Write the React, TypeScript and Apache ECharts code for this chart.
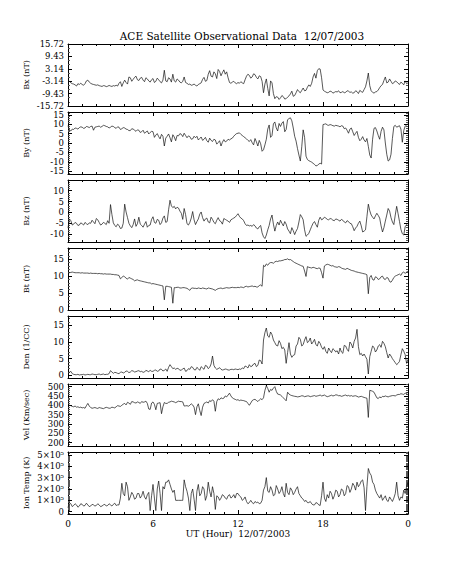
import React, { useEffect, useRef } from 'react';
import * as echarts from 'echarts';

// UT hours, sampled every 0.1 h from 0 to 24 (241 samples per series)
const STEP_HOURS = 0.1;

const bxValues = [
  -3.6, -3.2, -4.0, -4.4, -4.6, -5.0, -5.6, -4.4, -4.8, -4.2,
  -4.8, -5.2, -4.4, -3.0, -2.6, -3.6, -4.2, -4.6, -4.8, -5.0,
  -5.2, -5.0, -5.4, -5.6, -5.8, -5.4, -5.5, -5.9, -5.7, -5.3,
  -5.6, -5.8, -5.4, -5.6, -5.2, -5.6, -4.2, -3.4, -5.8, -4.0,
  -2.6, -3.8, -4.6, -1.0, -1.4, -3.2, -2.2, -1.2, -0.6, -2.4,
  -2.8, -1.6, -1.2, -2.6, -3.4, -1.4, -2.0, -3.0, -3.6, -2.4,
  -1.8, -3.8, -3.2, -1.6, -2.4, -3.4, -4.0, -2.6, 2.4, -3.0,
  -3.4, -1.4, -2.0, -3.6, 0.4, -3.0, -3.6, -2.0, -2.6, -3.6,
  -4.0, -3.2, -1.0, -3.8, -4.2, -4.8, -4.6, -5.2, -5.0, -4.6,
  -5.2, -5.6, -4.8, -4.4, -4.0, -2.2, -1.2, -3.2, -2.8, 0.4,
  2.2, -0.6, -1.0, 1.6, 0.6, -1.8, 2.8, 1.8, -0.4, 1.2,
  2.6, 0.4, 1.6, -1.4, -3.8, -4.2, -3.6, -3.2, -4.0, -4.4,
  -3.8, -4.2, -3.4, -4.0, -4.4, -2.4, -0.6, 0.4, -0.2, -1.6,
  -1.0, 0.6, 0.2, -1.2, -2.0, -0.4, -0.8, -3.2, -9.0, -4.6,
  -2.0, -6.8, -10.6, -3.0, -4.0, -9.4, -12.0, -11.0, -11.2, -12.4,
  -11.6, -10.4, -11.0, -12.2, -12.0, -11.2, -10.6, -9.6, -8.2, -10.8,
  -10.4, -9.0, -7.4, -8.4, -9.0, -7.8, -6.6, -8.0, -7.8, -6.2,
  -5.0, -5.8, -4.2, -1.0, 0.8, -1.6, 2.2, 3.2, 3.0, -1.4,
  -7.6, -8.2, -8.6, -9.0, -8.8, -8.2, -8.4, -9.2, -8.8, -8.4,
  -8.6, -8.0, -9.0, -8.8, -8.4, -9.0, -8.8, -8.0, -8.2, -8.8,
  -8.6, -9.2, -9.0, -8.0, -8.4, -9.4, -7.8, -8.4, -8.8, -7.4,
  -6.0, -3.0, 1.0, -5.4, -8.0, -8.8, -9.2, -8.6, -8.4, -7.6,
  -6.4, -5.4, -4.8, -2.8, -1.0, -4.0, -3.6, -2.0, -3.2, -4.4,
  -4.0, -3.0, -3.4, -4.2, -4.8, -3.6, -4.2, -5.0, -3.0, -4.4,
  -4.0,
];

const byValues = [
  9.2, 7.0, 6.4, 7.4, 7.2, 8.0, 7.8, 7.4, 8.2, 8.6,
  8.4, 7.8, 8.0, 8.8, 8.6, 8.2, 8.8, 9.0, 6.8, 8.4,
  8.6, 8.8, 9.0, 8.4, 8.8, 9.4, 9.2, 8.8, 8.6, 8.0,
  8.4, 9.0, 8.8, 8.2, 7.8, 8.6, 8.4, 7.2, 7.6, 8.2,
  8.0, 7.4, 7.2, 6.6, 6.6, 7.6, 7.4, 6.8, 6.2, 7.0,
  6.8, 5.6, 6.0, 6.8, 5.2, 5.8, 6.4, 4.8, 5.6, 6.2,
  6.0, 3.0, 4.2, 5.0, 3.4, 2.2, 4.6, 3.6, -1.6, 2.6,
  3.6, 4.8, 2.8, 0.6, 4.4, 3.2, 1.2, 4.0, 3.8, 5.0,
  4.6, 3.4, 5.2, 4.0, 2.8, 3.8, 3.4, 2.0, 2.2, 3.6,
  2.8, 3.6, 1.6, 2.4, 3.2, 1.4, 2.0, 3.0, 1.2, 0.4,
  2.6, 1.4, 0.8, 2.0, 1.6, -0.6, 0.2, 1.2, -1.6, 0.4,
  1.8, 0.6, 1.0, 2.0, 1.6, 2.2, 2.6, 3.6, 4.4, 5.0,
  5.2, 5.4, 4.6, 4.0, 3.4, 2.8, 2.2, 1.4, 0.8, 1.8,
  0.2, -1.0, 2.4, 0.6, -1.6, 1.4, -0.4, -4.4, -3.6, -1.0,
  2.0, 7.4, 9.6, 3.0, 4.0, 10.2, 11.2, 8.0, 6.4, 10.4,
  8.8, 10.6, 11.4, 6.0, 7.2, 12.4, 13.0, 13.4, 11.8, 8.0,
  3.6, 1.0, -3.0, -6.4, -9.6, -2.0, 7.0, 3.0, -7.0, -8.8,
  -9.4, -9.8, -10.2, -10.8, -11.4, -12.2, -12.0, -11.2, -10.8, -11.2,
  9.8, 10.0, 10.2, 9.6, 9.4, 9.8, 9.6, 9.2, 9.0, 9.4,
  9.2, 9.0, 8.6, 9.2, 9.0, 7.6, 8.0, 6.8, 5.2, 7.4,
  8.0, 6.0, 4.0, 5.2, 6.2, 3.0, 1.2, 2.0, 3.4, 1.6,
  0.6, 2.4, -1.8, -6.4, -8.0, 2.0, 7.8, 8.2, 6.4, 4.0,
  2.0, 6.2, 8.4, 7.0, 0.0, -6.0, -9.6, -9.0, -6.0, 2.4,
  8.8, 9.4, 8.4, 8.8, 9.2, 7.4, 0.4, 6.6, 9.0, 9.6,
  10.2,
];

const bzValues = [
  -7.2, -3.0, -3.8, -5.8, -5.4, -4.6, -5.0, -6.0, -5.8, -4.8,
  -5.2, -5.8, -4.6, -5.2, -5.6, -4.8, -5.0, -3.6, -4.4, -5.2,
  -2.8, -3.4, -4.6, -5.8, -5.4, -4.6, -5.0, -5.6, -3.8, -5.0,
  3.6, -1.0, -4.8, -6.0, -6.6, -5.4, -6.0, -7.4, -7.2, -5.0,
  3.8, 0.2, -2.4, -5.0, -6.2, -7.0, -5.6, -3.0, -6.4, -5.2,
  -2.2, -5.4, -6.0, -6.8, -5.4, -4.2, -6.8, -6.0, -5.8, -3.2,
  -2.0, -4.6, -5.0, -3.2, -3.6, -5.6, -4.8, -2.6, -1.6, -4.6,
  -4.2, 1.2, 5.6, 3.0, 2.2, 2.8, 1.6, 2.4, 2.0, 0.6,
  -0.4, -3.2, 1.8, -1.0, -5.2, -5.8, -4.6, -2.6, 0.4, -3.4,
  -5.6, -4.2, -3.0, -0.8, 0.2, -2.4, -4.0, -3.0, -2.6, -4.4,
  -4.8, -2.2, -3.2, -4.6, -5.2, -3.6, -2.4, -3.8, -4.2, -5.4,
  -2.8, -3.2, -3.6, -4.0, -4.6, -3.4, -3.0, -2.6, -2.2, -1.4,
  -0.6, -1.8, -2.6, -3.0, -3.8, -5.2, -6.0, -5.8, -6.2, -6.0,
  -6.4, -5.6, -6.2, -7.2, -7.6, -6.6, -6.0, -9.4, -11.2, -12.0,
  -10.4, -8.0, -6.0, -3.0, -1.2, -5.4, -8.6, -6.0, -4.4, -5.8,
  -3.6, -5.0, -6.2, -4.2, -5.4, -7.6, -8.6, -9.8, -7.0, -8.4,
  -10.2, -8.6, -7.4, -4.4, -1.0, -2.0, -3.4, -8.0, -11.0, -10.4,
  -9.6, -8.0, -6.4, -5.0, -4.2, -5.6, -6.8, -3.6, -2.2, -3.4,
  -3.0, -2.2, -2.6, -3.2, -3.4, -2.8, -3.0, -3.6, -3.8, -3.0,
  -3.2, -3.6, -4.0, -3.2, -3.6, -4.4, -4.8, -3.8, -4.2, -5.0,
  -5.2, -6.6, -8.4, -7.2, -6.4, -5.0, -4.0, -6.2, -9.0, -8.6,
  -8.0, -2.0, 3.8, 0.8, -1.2, -2.2, -3.0, -1.6, -0.4, -1.4,
  -2.6, -6.2, -9.0, -7.0, -4.0, -1.2, 1.8, 0.6, -2.4, -4.4,
  -5.6, -1.2, 2.8, -0.6, -4.2, -7.8, -9.8, -10.4, -6.6, -5.6,
  -4.8,
];

const btValues = [
  10.9, 11.0, 11.1, 11.2, 11.1, 11.0, 11.0, 11.0, 11.0, 10.9,
  11.0, 10.9, 10.9, 10.9, 10.9, 10.8, 10.9, 10.8, 10.8, 10.8,
  10.8, 10.7, 10.8, 10.7, 10.7, 10.6, 10.7, 10.6, 10.6, 10.6,
  10.6, 10.5, 10.5, 10.4, 10.4, 10.3, 10.2, 9.2, 9.6, 10.0,
  9.8, 9.4, 9.1, 9.6, 9.4, 9.2, 9.0, 8.6, 8.8, 8.9,
  8.7, 8.6, 8.5, 8.4, 8.3, 8.2, 8.1, 8.0, 8.0, 7.7,
  7.8, 7.7, 7.6, 7.5, 7.4, 7.3, 7.2, 7.1, 3.0, 7.0,
  7.0, 6.9, 6.8, 6.7, 2.0, 6.6, 6.6, 6.7, 6.7, 6.5,
  6.5, 6.6, 6.6, 6.5, 6.4, 6.1, 5.8, 6.4, 6.5, 6.4,
  6.4, 6.3, 6.5, 6.4, 6.3, 6.5, 6.4, 6.3, 6.2, 6.5,
  6.4, 6.3, 6.2, 6.0, 5.8, 6.1, 6.3, 6.4, 6.5, 6.3,
  6.4, 6.5, 6.6, 6.5, 6.5, 6.6, 6.7, 6.6, 6.6, 6.6,
  6.7, 6.6, 6.8, 6.7, 6.6, 6.9, 7.0, 6.8, 6.9, 7.0,
  7.1, 6.9, 7.0, 6.8, 6.8, 7.2, 7.4, 7.0, 13.2, 12.8,
  13.6, 13.2, 13.8, 14.0, 14.0, 13.8, 14.2, 14.4, 14.3, 14.5,
  14.5, 14.6, 14.7, 14.9, 14.9, 15.1, 14.8, 14.9, 14.6, 14.3,
  14.0, 13.8, 13.6, 13.4, 13.2, 13.0, 12.9, 11.5, 9.9, 12.8,
  12.6, 12.5, 12.4, 12.6, 12.5, 12.3, 12.2, 12.4, 12.3, 11.0,
  9.4, 13.0, 13.3, 13.5, 13.4, 13.2, 13.0, 13.1, 12.8, 12.7,
  12.6, 12.8, 12.7, 12.4, 12.2, 12.1, 12.0, 12.3, 12.1, 11.9,
  11.7, 11.6, 11.5, 11.3, 11.2, 11.1, 11.0, 10.9, 10.8, 10.7,
  10.6, 10.4, 4.8, 9.6, 10.2, 9.0, 8.8, 9.8, 9.6, 9.0,
  9.2, 9.8, 10.0, 9.2, 9.0, 9.6, 9.4, 8.4, 8.2, 8.8,
  9.6, 10.0, 10.2, 10.4, 10.6, 10.2, 11.0, 11.2, 10.8, 11.2,
  11.4,
];

const denValues = [
  0.6, 0.9, 1.2, 0.5, 0.3, 0.2, 0.2, 0.3, 0.1, 0.2,
  0.2, 0.3, 0.1, 0.2, 0.3, 0.2, 0.2, 0.4, 0.3, 0.2,
  0.2, 0.3, 0.4, 0.2, 0.3, 0.4, 0.2, 0.3, 0.3, 0.5,
  1.4, 1.0, 0.6, 0.9, 0.8, 0.6, 0.5, 0.9, 1.0, 0.7,
  0.9, 1.3, 1.2, 0.8, 1.0, 1.4, 1.3, 1.0, 1.1, 1.3,
  1.4, 1.1, 1.2, 0.9, 1.0, 1.5, 1.3, 1.1, 1.5, 1.2,
  1.2, 1.5, 1.6, 1.2, 1.3, 1.9, 1.8, 1.3, 1.5, 1.9,
  1.2, 2.4, 3.2, 2.6, 2.0, 2.2, 1.8, 2.1, 2.0, 1.5,
  1.6, 1.9, 2.2, 1.2, 1.4, 2.0, 1.8, 2.6, 2.4, 1.7,
  1.6, 2.4, 2.0, 1.5, 2.6, 2.2, 1.8, 3.0, 2.8, 2.0,
  2.4, 3.4, 5.8, 3.0, 2.2, 1.8, 2.0, 2.3, 1.8, 1.6,
  1.7, 1.9, 1.8, 1.6, 1.6, 1.8, 1.8, 1.7, 1.9, 1.8,
  1.7, 1.9, 1.8, 2.2, 2.0, 2.8, 2.6, 2.2, 3.2, 2.6,
  2.8, 3.4, 3.6, 2.6, 3.0, 4.6, 4.4, 3.4, 10.6, 12.8,
  14.2, 11.8, 11.4, 13.0, 12.2, 10.6, 9.8, 9.0, 8.8, 10.4,
  9.6, 8.0, 8.4, 7.6, 3.6, 6.8, 9.8, 6.4, 5.4, 6.0,
  6.2, 8.8, 9.4, 11.4, 10.8, 8.8, 9.2, 10.6, 11.6, 9.8,
  10.2, 11.2, 9.4, 10.0, 10.8, 9.2, 8.8, 10.2, 9.6, 8.4,
  7.8, 8.6, 7.2, 6.6, 8.2, 7.4, 6.8, 8.0, 7.6, 7.0,
  7.4, 6.4, 8.2, 7.0, 6.6, 9.0, 8.8, 7.8, 7.2, 10.0,
  9.4, 8.2, 10.2, 11.2, 13.8, 8.6, 6.2, 6.6, 5.8, 6.4,
  5.6, 4.8, 0.4, 5.6, 7.2, 8.8, 8.4, 7.0, 7.6, 8.8,
  9.2, 8.4, 10.2, 9.6, 8.6, 6.8, 5.2, 6.4, 5.8, 5.0,
  4.4, 3.8, 3.2, 3.6, 4.2, 6.2, 8.0, 7.2, 6.2, 3.6,
  4.8,
];

const velValues = [
  395, 400, 398, 394, 392, 396, 390, 392, 388, 390,
  386, 388, 384, 398, 410, 396, 388, 384, 386, 388,
  385, 383, 388, 386, 384, 382, 386, 389, 387, 384,
  385, 390, 388, 386, 392, 398, 396, 394, 400, 406,
  410, 402, 416, 412, 405, 420, 418, 414, 412, 418,
  415, 410, 420, 416, 418, 422, 410, 380, 378, 412,
  418, 405, 376, 410, 412, 414, 355, 392, 415, 410,
  410, 416, 418, 422, 420, 418, 414, 418, 422, 420,
  420, 418, 396, 397, 398, 395, 400, 408, 402, 390,
  350, 392, 408, 372, 345, 390, 410, 414, 418, 412,
  425, 420, 430, 422, 368, 420, 435, 430, 440, 436,
  438, 450, 445, 455, 465, 450, 440, 435, 432, 428,
  430, 425, 428, 426, 425, 422, 420, 410, 400, 412,
  425, 430, 432, 426, 420, 428, 435, 430, 440, 480,
  505, 490, 470, 485, 480, 492, 500, 475, 460, 458,
  455, 448, 440, 432, 424, 470, 460, 455, 452, 450,
  448, 447, 445, 446, 448, 451, 450, 446, 448, 450,
  450, 446, 448, 450, 452, 448, 450, 452, 455, 450,
  452, 455, 450, 446, 448, 451, 454, 450, 452, 456,
  455, 451, 452, 448, 450, 453, 455, 450, 453, 449,
  452, 448, 450, 451, 448, 444, 446, 448, 445, 442,
  440, 438, 335, 480, 478, 475, 470, 455, 440, 436,
  445, 440, 448, 446, 450, 447, 445, 448, 450, 452,
  452, 450, 455, 458, 458, 462, 460, 458, 465, 462,
  470,
];

// ion temperature in units of 1e5 K
const tempE5Values = [
  0.35, 0.8, 0.7, 0.45, 0.55, 0.7, 0.6, 0.4, 0.5, 0.7,
  0.65, 0.5, 0.55, 0.75, 0.6, 0.45, 0.5, 0.65, 0.6, 0.5,
  0.55, 0.7, 0.6, 0.45, 0.5, 0.6, 0.65, 0.5, 0.55, 0.7,
  0.6, 0.5, 0.65, 0.75, 0.55, 0.6, 0.6, 1.2, 2.5, 1.6,
  1.4, 2.6, 2.2, 1.0, 1.3, 1.7, 1.5, 1.1, 1.2, 1.6,
  1.6, 1.2, 1.4, 1.8, 1.3, 1.1, 1.5, 1.7, 0.1, 1.4,
  2.4, 1.2, 0.1, 2.0, 2.7, 1.6, 0.1, 2.2, 2.0, 2.6,
  2.6, 2.8, 2.4, 2.0, 1.7, 1.9, 1.0, 1.0, 1.0, 1.0,
  1.0, 1.0, 2.8, 2.2, 1.8, 1.2, 0.1, 1.6, 2.0, 1.1,
  0.1, 1.8, 2.4, 1.4, 1.6, 2.2, 2.0, 1.0, 1.4, 2.6,
  1.8, 1.3, 2.2, 1.6, 0.2, 1.4, 1.3, 1.0, 1.2, 1.5,
  1.4, 1.2, 1.1, 1.4, 1.5, 1.2, 1.3, 1.5, 1.2, 1.6,
  1.6, 1.4, 1.3, 1.0, 1.1, 1.3, 0.9, 0.7, 0.8, 1.0,
  0.8, 0.7, 0.9, 0.8, 0.85, 0.7, 0.75, 1.0, 1.9, 2.2,
  3.0, 1.8, 1.7, 2.2, 1.9, 1.4, 1.5, 2.3, 2.0, 1.6,
  1.8, 2.2, 1.6, 1.3, 2.5, 1.7, 1.5, 2.1, 1.9, 1.5,
  1.7, 2.0, 2.2, 1.6, 1.4, 1.2, 1.1, 0.9, 1.0, 0.8,
  0.8, 0.9, 0.7, 0.6, 0.6, 0.8, 0.75, 0.6, 0.55, 1.4,
  2.6, 1.2, 0.9, 1.5, 1.2, 1.8, 1.6, 1.1, 1.4, 1.9,
  1.8, 1.3, 1.5, 2.0, 1.9, 1.4, 1.6, 2.3, 2.2, 1.7,
  2.0, 2.5, 2.3, 1.9, 2.6, 2.2, 2.4, 2.7, 2.8, 2.1,
  0.1, 2.2, 3.8, 3.4, 3.2, 2.6, 2.4, 1.9, 1.6, 1.4,
  1.2, 1.5, 1.0, 1.2, 1.4, 1.0, 0.9, 1.3, 1.1, 0.9,
  1.2, 1.6, 2.6, 1.4, 1.0, 1.3, 1.2, 1.9, 1.6, 2.2,
  2.6,
];

const xTickLabels = ['0', '6', '12', '18', '0'];
const titleText = 'ACE Satellite Observational Data  12/07/2003';
const xAxisTitle = 'UT (Hour)  12/07/2003';

const FONT = '"DejaVu Serif", serif';
const INK = '#000';

type Panel = {
  name: string;
  values: number[];
  min: number;
  max: number;
  interval?: number;
  splitNumber?: number;
  minor: number;
  showMin: boolean;
  showMax: boolean;
  fmt?: (v: number) => string;
};

const panels: Panel[] = [
  { name: 'Bx (nT)', values: bxValues, min: -15.72, max: 15.72, interval: 6.288, minor: 3, showMin: true, showMax: true, fmt: (v) => v.toFixed(2) },
  { name: 'By (nT)', values: byValues, min: -16.5, max: 16.5, splitNumber: 6, minor: 5, showMin: false, showMax: false },
  { name: 'Bz (nT)', values: bzValues, min: -13.6, max: 14.9, splitNumber: 5, minor: 5, showMin: false, showMax: false },
  { name: 'Bt (nT)', values: btValues, min: 0, max: 18.3, interval: 5, minor: 5, showMin: true, showMax: false },
  { name: 'Den (1/CC)', values: denValues, min: -0.8, max: 17.8, splitNumber: 4, minor: 5, showMin: false, showMax: false },
  { name: 'Vel (Km/sec)', values: velValues, min: 182, max: 514, splitNumber: 6, minor: 5, showMin: false, showMax: false },
  {
    name: 'Ion Temp (K)',
    values: tempE5Values.map((v) => v * 1e5),
    min: -2e4,
    max: 5.25e5,
    splitNumber: 5,
    minor: 10,
    showMin: false,
    showMax: false,
    fmt: (v) => (Math.abs(v) < 1 ? '0' : `${Math.round(v / 1e5)}×10⁵`),
  },
];

const GRID_LEFT = 68;
const GRID_RIGHT = 45;
const GRID_TOP0 = 44;
const GRID_STEP = 68;
const GRID_H = 62;

export default function App() {
  const ref = useRef<HTMLDivElement>(null);

  useEffect(() => {
    if (!ref.current) return;
    const chart = echarts.init(ref.current, undefined, { renderer: 'svg' });

    const grids: any[] = [];
    const xAxes: any[] = [];
    const yAxes: any[] = [];
    const series: any[] = [];

    panels.forEach((p, i) => {
      grids.push({ left: GRID_LEFT, right: GRID_RIGHT, top: GRID_TOP0 + i * GRID_STEP, height: GRID_H, containLabel: false });
      const isLast = i === panels.length - 1;
      const xBase = {
        type: 'value',
        gridIndex: i,
        min: 0,
        max: 24,
        interval: 6,
        axisLine: { show: true, onZero: false, lineStyle: { color: INK, width: 1 } },
        axisTick: { show: true, inside: true, length: 4, lineStyle: { color: INK, width: 1 } },
        minorTick: { show: true, splitNumber: 6, length: 2, lineStyle: { color: INK, width: 1 } },
        splitLine: { show: false },
        minorSplitLine: { show: false },
      };
      xAxes.push({
        ...xBase,
        position: 'bottom',
        axisLabel: {
          show: isLast,
          color: INK,
          fontFamily: FONT,
          fontSize: 9,
          margin: 5,
          formatter: (v: number) => xTickLabels[Math.round(v / 6)] ?? '',
        },
        name: isLast ? xAxisTitle : '',
        nameLocation: 'middle',
        nameGap: 15,
        nameMoveOverlap: false,
        nameTextStyle: { color: INK, fontFamily: FONT, fontSize: 9 },
      });
      xAxes.push({ ...xBase, position: 'top', axisLabel: { show: false } });

      const yBase: any = {
        type: 'value',
        gridIndex: i,
        min: p.min,
        max: p.max,
        axisLine: { show: true, onZero: false, lineStyle: { color: INK, width: 1 } },
        axisTick: { show: true, inside: true, length: 4, lineStyle: { color: INK, width: 1 } },
        minorTick: { show: true, splitNumber: p.minor, length: 2, lineStyle: { color: '#555', width: 1 } },
        splitLine: { show: false },
        minorSplitLine: { show: false },
      };
      if (p.interval != null) yBase.interval = p.interval;
      if (p.splitNumber != null) yBase.splitNumber = p.splitNumber;

      yAxes.push({
        ...yBase,
        position: 'left',
        axisLabel: {
          show: true,
          color: INK,
          fontFamily: FONT,
          fontSize: 8.5,
          margin: 4,
          showMinLabel: p.showMin,
          showMaxLabel: p.showMax,
          formatter: p.fmt ? p.fmt : (v: number) => String(v),
        },
        name: p.name,
        nameLocation: 'middle',
        nameRotate: 90,
        nameGap: 38,
        nameMoveOverlap: false,
        nameTextStyle: { color: INK, fontFamily: FONT, fontSize: 8 },
      });
      yAxes.push({ ...yBase, position: 'right', axisLabel: { show: false } });

      series.push({
        type: 'line',
        xAxisIndex: i * 2,
        yAxisIndex: i * 2,
        data: p.values.map((v, k) => [k * STEP_HOURS, v]),
        showSymbol: false,
        symbol: 'none',
        lineStyle: { color: '#111', width: 0.7 },
        clip: true,
      });
    });

    chart.setOption({
      animation: false,
      backgroundColor: '#fff',
      title: {
        text: titleText,
        left: 237,
        textAlign: 'center',
        top: 25,
        textStyle: { fontFamily: FONT, fontSize: 10.5, fontWeight: 'normal', color: INK },
      },
      grid: grids,
      xAxis: xAxes,
      yAxis: yAxes,
      series,
    });

    return () => chart.dispose();
  }, []);

  return <div ref={ref} style={{ position: 'absolute', left: 0, top: 0, width: 453, height: 566 }} />;
}
